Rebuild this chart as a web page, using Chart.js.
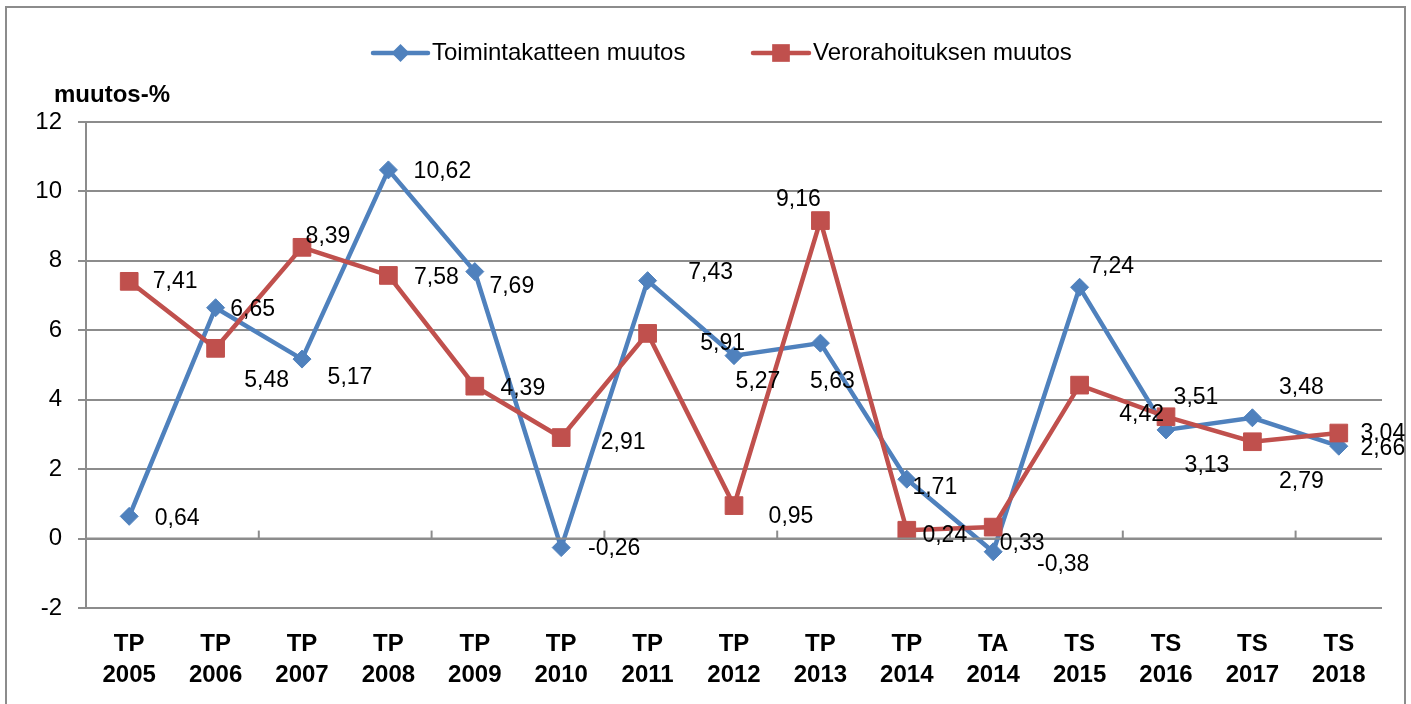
<!DOCTYPE html>
<html lang="fi">
<head>
<meta charset="utf-8">
<script src="https://cdn.jsdelivr.net/npm/chart.js"></script>
<style>
  html, body { margin: 0; padding: 0; background: #fff; }
  .wrap { position: relative; width: 1411px; height: 704px; overflow: hidden; }
  .frame { position: absolute; left: 5px; top: 6px; width: 1401px; height: 720px; border: 2px solid #8c8c8c; box-sizing: border-box; }
  canvas { position: absolute; left: 0; top: 0; }
</style>
</head>
<body>
<div class="wrap">
  <div class="frame"></div>
  <canvas id="chart" width="1411" height="704"></canvas>
</div>
<script>
const categories = [
  ['TP', '2005'], ['TP', '2006'], ['TP', '2007'], ['TP', '2008'], ['TP', '2009'],
  ['TP', '2010'], ['TP', '2011'], ['TP', '2012'], ['TP', '2013'], ['TP', '2014'],
  ['TA', '2014'], ['TS', '2015'], ['TS', '2016'], ['TS', '2017'], ['TS', '2018']
];
const toimintakate = [0.64, 6.65, 5.17, 10.62, 7.69, -0.26, 7.43, 5.27, 5.63, 1.71, -0.38, 7.24, 3.13, 3.48, 2.66];
const verorahoitus = [7.41, 5.48, 8.39, 7.58, 4.39, 2.91, 5.91, 0.95, 9.16, 0.24, 0.33, 4.42, 3.51, 2.79, 3.04];
const yTicks = [-2, 0, 2, 4, 6, 8, 10, 12];

const BLUE = '#4f81bd';
const RED = '#c0504d';
const GRID = '#8c8c8c';

// where each value label sits relative to its point (px), as in the original
const blueLabelOffsets = [[48,2],[37,2],[48,19],[54,2],[37,15],[53,1],[63,-8],[24,26],[12,39],[28,8],[70,13],[32,-21],[41,36],[49,-30],[44,2]];
const redLabelOffsets = [[46,0],[51,32],[26,-11],[48,2],[48,2],[62,5],[75,10],[57,11],[-22,-21],[38,5],[29,17],[62,30],[30,-19],[49,40],[44,1]];

const fmt = v => v.toFixed(2).replace('.', ',');

const extras = {
  id: 'extras',
  afterDraw(chart) {
    const ctx = chart.ctx;
    const x = chart.scales.x, y = chart.scales.y;
    ctx.save();

    // small tick marks on the zero line, every second category
    const y0 = y.getPixelForValue(0);
    ctx.strokeStyle = GRID;
    ctx.lineWidth = 2;
    for (let i = 2; i < categories.length; i += 2) {
      const px = (x.getPixelForValue(i - 1) + x.getPixelForValue(i)) / 2;
      ctx.beginPath();
      ctx.moveTo(px, y0 - 8);
      ctx.lineTo(px, y0);
      ctx.stroke();
    }
    // zero line
    ctx.beginPath();
    ctx.moveTo(chart.chartArea.left, y0);
    ctx.lineTo(chart.chartArea.right, y0);
    ctx.stroke();

    // value labels
    ctx.fillStyle = '#000';
    ctx.font = '23px "Liberation Sans", Arial, sans-serif';
    ctx.textAlign = 'center';
    ctx.textBaseline = 'middle';
    const sets = [[0, blueLabelOffsets], [1, redLabelOffsets]];
    sets.forEach(([di, offs]) => {
      const meta = chart.getDatasetMeta(di);
      const vals = chart.data.datasets[di].data;
      meta.data.forEach((pt, i) => {
        ctx.fillText(fmt(vals[i]), pt.x + offs[i][0], pt.y + offs[i][1]);
      });
    });

    // axis title
    ctx.font = 'bold 24px "Liberation Sans", Arial, sans-serif';
    ctx.textAlign = 'left';
    ctx.fillText('muutos-%', 54, 95);

    // legend
    ctx.font = '24px "Liberation Sans", Arial, sans-serif';
    const legend = [
      { color: BLUE, style: 'rectRot', r: 9, x0: 373, x1: 428, text: 'Toimintakatteen muutos' },
      { color: RED, style: 'rect', r: 12.5, x0: 753, x1: 809, text: 'Verorahoituksen muutos' }
    ];
    legend.forEach(l => {
      const ly = 53;
      ctx.strokeStyle = l.color;
      ctx.lineWidth = 4.5;
      ctx.lineCap = 'round';
      ctx.beginPath();
      ctx.moveTo(l.x0, ly);
      ctx.lineTo(l.x1, ly);
      ctx.stroke();
      ctx.fillStyle = l.color;
      Chart.helpers.drawPoint(ctx, { pointStyle: l.style, radius: l.r, borderWidth: 0 }, (l.x0 + l.x1) / 2, ly);
      ctx.fillStyle = '#000';
      ctx.fillText(l.text, l.x1 + 4, ly);
    });
    ctx.restore();
  }
};

new Chart(document.getElementById('chart'), {
  type: 'line',
  data: {
    labels: categories,
    datasets: [{
      label: 'Toimintakatteen muutos',
      data: toimintakate,
      borderColor: BLUE,
      backgroundColor: BLUE,
      borderWidth: 4.5,
      pointStyle: 'rectRot',
      pointRadius: 9,
      pointHoverRadius: 9,
      pointBorderWidth: 1,
      tension: 0,
      order: 1
    }, {
      label: 'Verorahoituksen muutos',
      data: verorahoitus,
      borderColor: RED,
      backgroundColor: RED,
      borderWidth: 4.5,
      pointStyle: 'rect',
      pointRadius: 12.5,
      pointHoverRadius: 12.5,
      pointBorderWidth: 1,
      tension: 0,
      order: 0
    }]
  },
  options: {
    responsive: false,
    animation: false,
    layout: { padding: { top: 122, right: 29, left: 0, bottom: 0 } },
    plugins: {
      legend: { display: false },
      tooltip: { enabled: false }
    },
    scales: {
      x: {
        offset: true,
        afterFit: s => { s.height = 96; },
        grid: { display: false, drawTicks: false },
        border: { display: false },
        ticks: {
          color: '#000',
          padding: 21,
          maxRotation: 0,
          autoSkip: false,
          font: { family: '"Liberation Sans", Arial, sans-serif', size: 24, weight: 'bold', lineHeight: 1.3 }
        }
      },
      y: {
        min: -2,
        max: 12,
        afterFit: s => { s.width = 86; },
        afterBuildTicks: s => { s.ticks = yTicks.map(v => ({ value: v })); },
        grid: { color: GRID, lineWidth: 2, tickLength: 8, tickColor: GRID },
        border: { display: true, color: GRID, width: 2 },
        ticks: {
          color: '#000',
          padding: 16,
          font: { family: '"Liberation Sans", Arial, sans-serif', size: 24 }
        }
      }
    }
  },
  plugins: [extras]
});
</script>
</body>
</html>
